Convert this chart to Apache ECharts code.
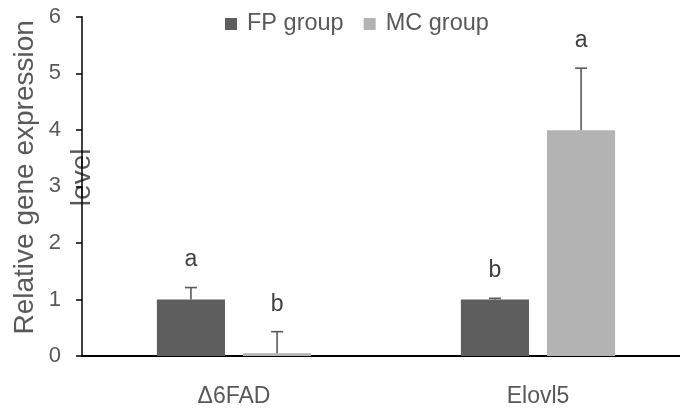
<!DOCTYPE html>
<html><head><meta charset="utf-8">
<script src="https://cdn.jsdelivr.net/npm/echarts@6/dist/echarts.min.js"></script>
<style>html,body{margin:0;padding:0;background:#fff}#c{width:680px;height:410px}</style>
</head><body><div id="c"></div>
<script>
const categories = ['Δ6FAD', 'Elovl5'];
const seriesNames = ['FP group', 'MC group'];
const fpValues = [1.0, 1.0];
const mcValues = [0.05, 3.99];
const fpErrors = [0.21, 0.02];
const mcErrors = [0.38, 1.10];
const fpLetters = ['a', 'b'];
const mcLetters = ['b', 'a'];
const yAxisTitle = 'Relative gene expression\nlevel';

const colors = ['#5e5e5e', '#b3b3b3'];
const textColor = '#595959';
const BAR_W = 0.224, BAR_GAP = 0.265;

function errData(vals, errs, letters) {
  return vals.map((v, i) => [i, v, errs[i], letters[i]]);
}
function makeErr(seriesIdx, vals, errs, letters) {
  return {
    type: 'custom',
    name: seriesNames[seriesIdx] + ' err',
    z: 5,
    silent: true,
    encode: { x: 0, y: 1 },
    data: errData(vals, errs, letters),
    renderItem: function (params, api) {
      const band = api.size([1, 0])[0];
      const off = (seriesIdx === 0 ? -1 : 1) * band * BAR_W * (1 + BAR_GAP) / 2;
      const c = api.value(0), v = api.value(1), e = api.value(2);
      const base = api.coord([c, v]);
      const top = api.coord([c, v + e]);
      const x = base[0] + off;
      const st = { stroke: '#595959', lineWidth: 1.6 };
      return {
        type: 'group',
        children: [
          { type: 'line', shape: { x1: x, y1: base[1], x2: x, y2: top[1] }, style: st },
          { type: 'line', shape: { x1: x - 6, y1: top[1], x2: x + 6, y2: top[1] }, style: st },
          { type: 'text', style: { text: letters[params.dataIndex], x: x, y: top[1] - 16,
              textAlign: 'center', textVerticalAlign: 'bottom',
              font: '23px "Liberation Sans", Arial, sans-serif', fill: '#404040' } }
        ]
      };
    }
  };
}

const chart = echarts.init(document.getElementById('c'));
chart.setOption({
  animation: false,
  textStyle: { fontFamily: '"Liberation Sans", Arial, sans-serif' },
  legend: {
    data: seriesNames,
    left: 220, top: 7,
    icon: 'rect', itemWidth: 12, itemHeight: 12, itemGap: 20,
    textStyle: { fontSize: 23.5, color: textColor, padding: [0, 0, 0, 5] }
  },
  grid: { left: 82, right: -10, top: 16.7, bottom: 54, containLabel: false, outerBoundsMode: 'none' },
  xAxis: {
    type: 'category',
    data: categories,
    axisLine: { lineStyle: { color: '#000', width: 2 } },
    axisTick: { show: false },
    axisLabel: { fontSize: 23, color: textColor, margin: 29 }
  },
  yAxis: {
    type: 'value', min: 0, max: 6, interval: 1,
    name: yAxisTitle,
    nameLocation: 'middle', nameRotate: 90, nameGap: -29, nameMoveOverlap: false,
    nameTextStyle: { fontSize: 28, color: textColor, lineHeight: 57, padding: [0, 0, 0, 18] },
    axisLine: { show: true, lineStyle: { color: '#000', width: 1.5 } },
    axisTick: { show: true, length: 6, lineStyle: { color: '#000', width: 1.5 } },
    splitLine: { show: false },
    axisLabel: { fontSize: 22, color: textColor, margin: 21 }
  },
  series: [
    { type: 'bar', name: seriesNames[0], data: fpValues, barWidth: (BAR_W * 100) + '%',
      barGap: (BAR_GAP * 100) + '%', itemStyle: { color: colors[0] } },
    { type: 'bar', name: seriesNames[1], data: mcValues, barWidth: (BAR_W * 100) + '%',
      barGap: (BAR_GAP * 100) + '%', itemStyle: { color: colors[1] } },
    makeErr(0, fpValues, fpErrors, fpLetters),
    makeErr(1, mcValues, mcErrors, mcLetters)
  ]
});
</script></body></html>
